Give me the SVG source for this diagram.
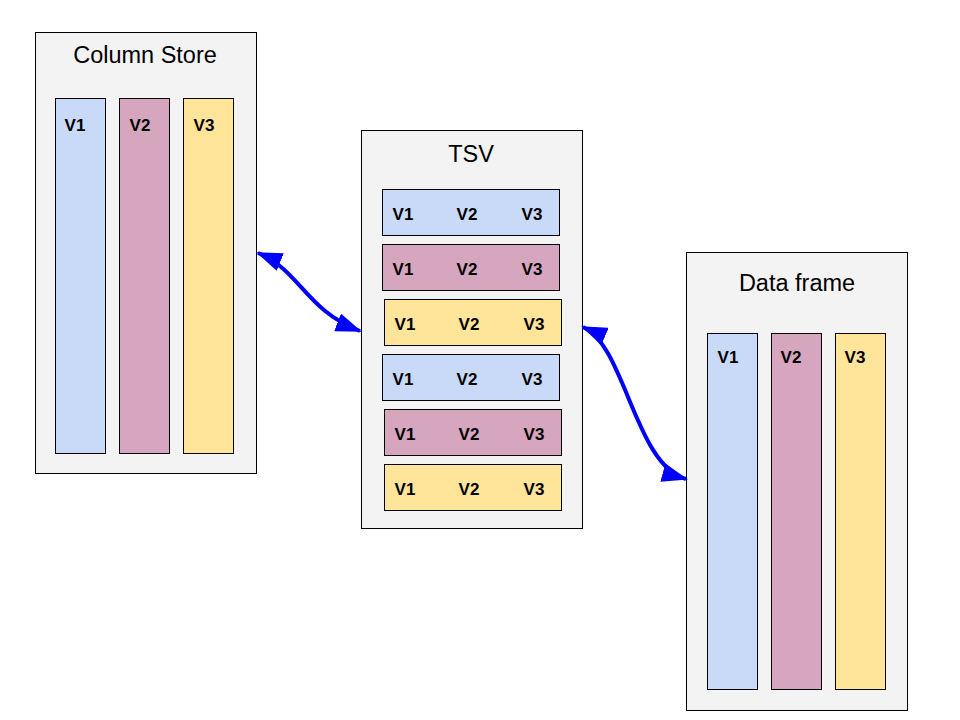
<svg xmlns="http://www.w3.org/2000/svg" width="960" height="720" viewBox="0 0 960 720">
<style>
.box{fill:#f3f3f3;stroke:#000;stroke-width:1}
.c1{fill:#c9daf8;stroke:#000;stroke-width:1}
.c2{fill:#d5a6bd;stroke:#000;stroke-width:1}
.c3{fill:#ffe599;stroke:#000;stroke-width:1}
.title{font-family:"Liberation Sans",Arial,sans-serif;font-size:23.5px;fill:#000;text-anchor:middle}
.lbl{font-family:"Liberation Sans",Arial,sans-serif;font-size:17px;font-weight:bold;fill:#000;text-anchor:middle}
.conn{fill:none;stroke:#0000ff;stroke-width:4}
</style>
<defs>
<marker id="ah" markerUnits="userSpaceOnUse" markerWidth="26" markerHeight="19" refX="24" refY="9.5" orient="auto-start-reverse" viewBox="0 0 26 19">
<path d="M0,0 L26,9.5 L0,19 Z" fill="#0000ff"/>
</marker>
</defs>
<rect width="960" height="720" fill="#fff"/>
<g id="column-store">
<rect class="box" x="35.5" y="32.5" width="221" height="441"/>
<text class="title" x="145" y="63">Column Store</text>
<rect class="c1" x="55.5" y="98.5" width="50" height="355"/>
<rect class="c2" x="119.5" y="98.5" width="50" height="355"/>
<rect class="c3" x="183.5" y="98.5" width="50" height="355"/>
<text class="lbl" x="75" y="131">V1</text>
<text class="lbl" x="140" y="131">V2</text>
<text class="lbl" x="204" y="131">V3</text>
</g>
<g id="tsv">
<rect class="box" x="361.5" y="130.5" width="221" height="398"/>
<text class="title" x="471" y="162">TSV</text>
<rect class="c1" x="382.5" y="189.5" width="177" height="46"/>
<rect class="c2" x="382.5" y="244.5" width="177" height="46"/>
<rect class="c3" x="384.5" y="299.5" width="177" height="46"/>
<rect class="c1" x="382.5" y="354.5" width="177" height="46"/>
<rect class="c2" x="384.5" y="409.5" width="177" height="46"/>
<rect class="c3" x="384.5" y="464.5" width="177" height="46"/>
<text class="lbl" x="403" y="220">V1</text><text class="lbl" x="467" y="220">V2</text><text class="lbl" x="532" y="220">V3</text>
<text class="lbl" x="403" y="275">V1</text><text class="lbl" x="467" y="275">V2</text><text class="lbl" x="532" y="275">V3</text>
<text class="lbl" x="405" y="330">V1</text><text class="lbl" x="469" y="330">V2</text><text class="lbl" x="534" y="330">V3</text>
<text class="lbl" x="403" y="385">V1</text><text class="lbl" x="467" y="385">V2</text><text class="lbl" x="532" y="385">V3</text>
<text class="lbl" x="405" y="440">V1</text><text class="lbl" x="469" y="440">V2</text><text class="lbl" x="534" y="440">V3</text>
<text class="lbl" x="405" y="495">V1</text><text class="lbl" x="469" y="495">V2</text><text class="lbl" x="534" y="495">V3</text>
</g>
<g id="data-frame">
<rect class="box" x="686.5" y="252.5" width="221" height="458"/>
<text class="title" x="797" y="291">Data frame</text>
<rect class="c1" x="707.5" y="333.5" width="50" height="356"/>
<rect class="c2" x="771.5" y="333.5" width="50" height="356"/>
<rect class="c3" x="835.5" y="333.5" width="50" height="356"/>
<text class="lbl" x="728" y="363">V1</text>
<text class="lbl" x="791" y="363">V2</text>
<text class="lbl" x="855" y="363">V3</text>
</g>
<g id="connectors">
<path class="conn" d="M258,253 C300,270 305,310 360,331" marker-start="url(#ah)" marker-end="url(#ah)"/>
<path class="conn" d="M583,327 C625,345 635,465 686,479" marker-start="url(#ah)" marker-end="url(#ah)"/>
</g>
</svg>
